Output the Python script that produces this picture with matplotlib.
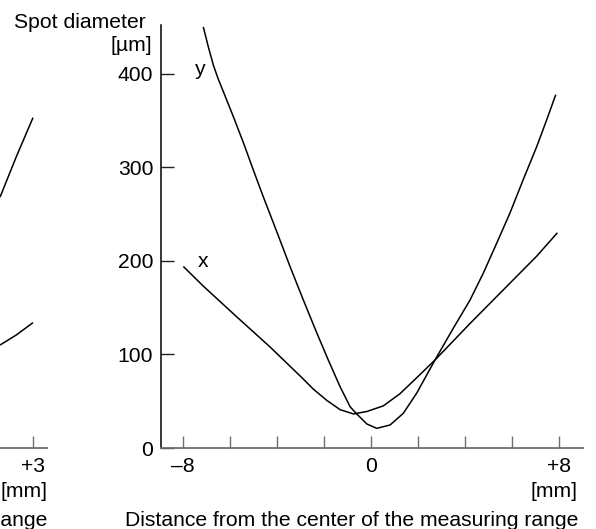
import matplotlib.pyplot as plt

plt.rcParams['font.family'] = ['Liberation Sans', 'DejaVu Sans']

W, H = 596, 529

# right panel (distance in mm, spot diameter in um)
y_dist = [-7.14, -6.93, -6.71, -6.5, -6.29, -5.86, -5.43, -5.01, -4.58, -4.01, -3.45,
          -2.88, -2.31, -1.82, -1.32, -0.89, -0.61, -0.18, 0.24, 0.81, 1.37,
          1.94, 2.72, 3.5, 4.21, 4.78, 5.35, 5.91, 6.48, 7.05, 7.48, 7.86]
y_spot = [450, 429, 409, 394, 381, 354, 326, 297, 268, 231, 194,
          158, 123, 94, 65.6, 44, 36.4, 25.7, 21, 24.6, 37,
          58.5, 94, 128, 158, 187, 219, 251, 287, 322, 351, 377.5]

x_dist = [-7.99, -7.14, -5.71, -4.30, -3.02, -2.46, -1.89, -1.32, -0.75, -0.18,
          0.52, 1.23, 1.94, 2.72, 4.21, 5.63, 7.05, 7.93]
x_spot = [194, 173, 140, 108, 77, 63, 51, 41, 36.4, 39,
          45, 58, 75, 94, 133, 169, 205, 230]

# left panel, only its right end is inside the picture
left_dist = [2.175, 2.59, 3.0]
left_upper = [268, 312, 353]
left_lower = [110, 121, 134]

y_ticks = [0, 100, 200, 300, 400]
x_ticks = [-8, -6, -4, -2, 0, 2, 4, 6, 8]
x_tick_labels = ['–8', '', '', '', '0', '', '', '', '+8']
left_ticks = [-3, -2, -1, 0, 1, 2, 3]
left_tick_labels = ['', '', '', '', '', '', '+3']

FS = 15.2
GRAY = '#707070'


def px_box(x0, x1, ytop, ybot):
    return [x0 / W, (H - ybot) / H, (x1 - x0) / W, (ybot - ytop) / H]


def style(ax):
    ax.spines['top'].set_visible(False)
    ax.spines['right'].set_visible(False)
    ax.spines['left'].set_color('black')
    ax.spines['left'].set_linewidth(1.1)
    ax.spines['bottom'].set_color(GRAY)
    ax.spines['bottom'].set_linewidth(1.3)
    ax.set_yticks(y_ticks)
    ax.set_ylim(0, 452)
    ax.tick_params(axis='x', direction='in', length=8.6, width=1.0, color=GRAY,
                   pad=6.5, labelsize=FS)
    ax.tick_params(axis='y', direction='in', length=9.4, width=1.0, color='#222222',
                   pad=5.5, labelsize=FS)


fig = plt.figure(figsize=(W / 100, H / 100), dpi=100)

ax = fig.add_axes(px_box(161, 583, 25, 448))
style(ax)
line_kw = dict(color='black', lw=1.1, solid_joinstyle='round', solid_capstyle='butt')
ax.plot(y_dist, y_spot, **line_kw)
ax.plot(x_dist, x_spot, **line_kw)
ax.set_xlim(-8.94, 9.02)
ax.set_xticks(x_ticks)
ax.set_xticklabels(x_tick_labels)
ax.text(-7.28, 399, 'y', fontsize=FS, ha='center', va='baseline')
ax.text(-7.17, 193, 'x', fontsize=FS, ha='center', va='baseline')

ax_l = fig.add_axes(px_box(-221, 47, 25, 448))
style(ax_l)
ax_l.plot(left_dist, left_upper, **line_kw)
ax_l.plot(left_dist, left_lower, **line_kw)
ax_l.set_xlim(-3.35, 3.35)
ax_l.set_xticks(left_ticks)
ax_l.set_xticklabels(left_tick_labels)
ax_l.set_yticklabels([])

label = 'Distance from the center of the measuring range'
fig.text(146 / W, 1 - 28 / H, 'Spot diameter', fontsize=FS, ha='right', va='baseline')
fig.text(152 / W, 1 - 51 / H, '[µm]', fontsize=FS, ha='right', va='baseline')
for xr in (578, 47.5):
    fig.text(xr / W, 1 - 497 / H, '[mm]', fontsize=FS, ha='right', va='baseline')
    fig.text(xr / W, 1 - 526 / H, label, fontsize=FS, ha='right', va='baseline')

fig.savefig('out.png', dpi=100)
